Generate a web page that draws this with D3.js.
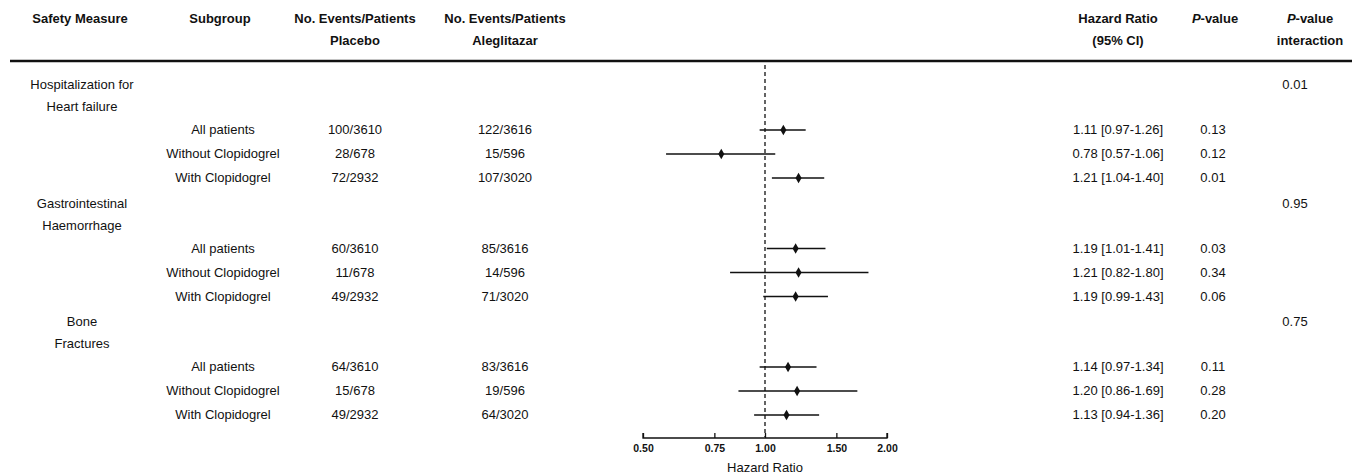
<!DOCTYPE html>
<html><head><meta charset="utf-8">
<script src="https://cdn.jsdelivr.net/npm/d3@7"></script>
<style>body{margin:0;background:#fff}text{font-family:"Liberation Sans",Arial,sans-serif;font-size:13px;fill:#111}</style>
</head><body><svg id="c" width="1352" height="475"></svg>
<script>
const measures = [["Hospitalization for", "Heart failure"], ["Gastrointestinal", "Haemorrhage"], ["Bone", "Fractures"]];
const interaction = ["0.01", "0.95", "0.75"];
const subgroups = ["All patients", "Without Clopidogrel", "With Clopidogrel"];
const placebo = ["100/3610", "28/678", "72/2932", "60/3610", "11/678", "49/2932", "64/3610", "15/678", "49/2932"];
const aleg = ["122/3616", "15/596", "107/3020", "85/3616", "14/596", "71/3020", "83/3616", "19/596", "64/3020"];
const hr = [1.11, 0.78, 1.21, 1.19, 1.21, 1.19, 1.14, 1.20, 1.13];
const lo = [0.97, 0.57, 1.04, 1.01, 0.82, 0.99, 0.97, 0.86, 0.94];
const hi = [1.26, 1.06, 1.40, 1.41, 1.80, 1.43, 1.34, 1.69, 1.36];
const pval = ["0.13", "0.12", "0.01", "0.03", "0.34", "0.06", "0.11", "0.28", "0.20"];
const ticks = [0.5, 0.75, 1, 1.5, 2];

const svg = d3.select("#c");
const x = d3.scaleLog().domain([0.5, 2]).range([643, 887]);
const f2 = d3.format(".2f");

// headers
const heads = [
  [80, ["Safety Measure"]], [220, ["Subgroup"]], [355, ["No. Events/Patients", "Placebo"]],
  [505, ["No. Events/Patients", "Aleglitazar"]], [1118, ["Hazard Ratio", "(95% CI)"]]
];
heads.forEach(([cx, lines]) => lines.forEach((t, i) =>
  svg.append("text").attr("x", cx).attr("y", 23 + i * 22).attr("text-anchor", "middle")
    .attr("font-weight", "bold").text(t)));
svg.append("text").attr("x", 1215).attr("y", 23).attr("text-anchor", "middle").attr("font-weight", "bold")
  .html('<tspan font-style="italic">P</tspan>-value');
svg.append("text").attr("x", 1310).attr("y", 23).attr("text-anchor", "middle").attr("font-weight", "bold")
  .html('<tspan font-style="italic">P</tspan>-value');
svg.append("text").attr("x", 1310).attr("y", 45).attr("text-anchor", "middle").attr("font-weight", "bold").text("interaction");
svg.append("line").attr("x1", 10).attr("x2", 1352).attr("y1", 61).attr("y2", 61).attr("stroke", "#111").attr("stroke-width", 2.5);

// rows
const rowY = [];
measures.forEach((m, g) => {
  const y0 = 85 + g * 118.5;
  m.forEach((t, i) => svg.append("text").attr("x", 82).attr("y", y0 + 4 + i * 22).attr("text-anchor", "middle").text(t));
  svg.append("text").attr("x", 1295).attr("y", y0 + 4).attr("text-anchor", "middle").text(interaction[g]);
  subgroups.forEach((s, j) => rowY.push(y0 + 45 + j * 24));
});
const yTop = 65, yBot = 437;
svg.append("line").attr("x1", x(1)).attr("x2", x(1)).attr("y1", yTop).attr("y2", yBot)
  .attr("stroke", "#111").attr("stroke-width", 1.3).attr("stroke-dasharray", "4,3");

rowY.forEach((y, i) => {
  const g = svg.append("g");
  g.append("text").attr("x", 223).attr("y", y + 4).attr("text-anchor", "middle").text(subgroups[i % 3]);
  g.append("text").attr("x", 355).attr("y", y + 4).attr("text-anchor", "middle").text(placebo[i]);
  g.append("text").attr("x", 505).attr("y", y + 4).attr("text-anchor", "middle").text(aleg[i]);
  g.append("text").attr("x", 1118).attr("y", y + 4).attr("text-anchor", "middle")
    .text(`${f2(hr[i])} [${f2(lo[i])}-${f2(hi[i])}]`);
  g.append("text").attr("x", 1213).attr("y", y + 4).attr("text-anchor", "middle").text(pval[i]);
  g.append("line").attr("x1", x(lo[i])).attr("x2", x(hi[i])).attr("y1", y).attr("y2", y).attr("stroke", "#111").attr("stroke-width", 1.4);
  g.append("path").attr("d", d3.symbol(d3.symbolDiamond, 32)).attr("transform", `translate(${x(hr[i])},${y})`).attr("fill", "#111");
});

// axis
const ax = svg.append("g").attr("transform", "translate(0,438)")
  .call(d3.axisBottom(x).tickValues(ticks).tickFormat(f2).tickSize(-5));
ax.select(".domain").attr("d", `M${x(0.5)},-5V0H${x(2)}V-5`).attr("stroke", "#111").attr("stroke-width", 1.3);
ax.selectAll(".tick line").attr("stroke", "#111").attr("stroke-width", 1.3);
ax.selectAll("text").attr("font-weight", "bold").style("font-size", "10.5px").attr("fill", "#111").attr("y", 7).attr("dy", "0.71em");
svg.append("text").attr("x", x(1)).attr("y", 472).attr("text-anchor", "middle").text("Hazard Ratio");
</script></body></html>
